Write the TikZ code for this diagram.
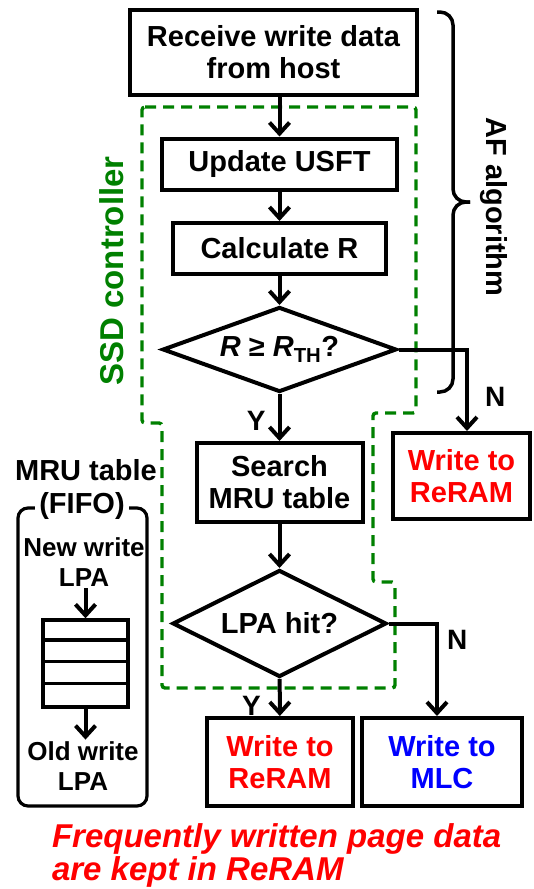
\documentclass[tikz,border=0pt]{standalone}
\usepackage{fontspec}
\setmainfont{Liberation Sans}
\usepackage{xcolor}
\usepackage{tikz}
\usetikzlibrary{positioning, arrows.meta, shapes.geometric}

\definecolor{ctrlgreen}{RGB}{0,128,0}

\begin{document}
\begin{tikzpicture}[
        x=1pt, y=-1pt,
        line width=4pt,
        >={Straight Barb[length=11pt, width=20pt]},
        every node/.style={font=\fontsize{29}{32}\selectfont\bfseries,
          align=center, inner sep=0pt},
        proc/.style={draw, rectangle, line width=4pt},
        decision/.style={draw, diamond, line width=4pt},
        small/.style={font=\fontsize{26}{30}\selectfont\bfseries},
        lbl/.style={font=\fontsize{28}{30}\selectfont\bfseries},
      ]
      \useasboundingbox (0,0) rectangle (533,889);

      % controller region
      \draw[ctrlgreen, line width=3.4pt, dash pattern=on 11pt off 7pt,
        rounded corners=3pt]
      (142,107) -- (416,107) -- (416,413) -- (373,413) -- (373,582)
      -- (395,582) -- (395,688) -- (162,688) -- (162,423) -- (142,423) -- cycle;
      \node[ctrlgreen, rotate=90, font=\fontsize{33}{36}\selectfont\bfseries]
      (ssd) at (112,271) {SSD controller};

      \node[proc, minimum width=287, minimum height=85] (recv) at (273.5,52.5)
      {Receive write data\\from host};
      \node[proc, minimum width=235, minimum height=51] (usft) at (279.5,164)
      {Update USFT};
      \node[proc, minimum width=213, minimum height=51] (calcR) at (279.5,248.5)
      {Calculate R};
      \node[decision, aspect=2.75, minimum width=234, minimum height=85] (cmpR)
      at (279.5,349.5) {\textit{R} ≥ \textit{R}\textsubscript{TH}?};
      \node[proc, minimum width=137, minimum height=86, text=red] (rr1)
      at (461.5,476) {Write to\\ReRAM};
      \node[proc, minimum width=166, minimum height=79] (srch) at (279.5,482.5)
      {Search\\MRU table};
      \node[decision, aspect=2, minimum width=214, minimum height=107] (hit)
      at (279.5,623.5) {LPA hit?};
      \node[proc, minimum width=146, minimum height=88, text=red] (rr2)
      at (280,762) {Write to\\ReRAM};
      \node[proc, minimum width=160, minimum height=88, text=blue] (mlc)
      at (442,762) {Write to\\MLC};

      % AF algorithm
      \draw[line width=3.5pt, rounded corners=13pt]
      (437,12) -| (453,202) -- (470,202);
      \draw[line width=3.5pt, rounded corners=13pt]
      (470,202) -- (453,202) |- (437,392);
      \node[rotate=-90] (af) at (494,207) {AF algorithm};

      \path[->]
      (recv.south -| usft.north) edge (usft.north)
      (usft) edge (calcR)
      (calcR) edge (cmpR)
      (cmpR) edge node[lbl, left, pos=0.58, xshift=-12pt] {Y} (srch)
      (srch) edge (hit)
      (hit) edge node[lbl, left, pos=0.72, xshift=-17pt] {Y} (rr2);

      \draw[->] (cmpR.east) -| node[lbl, right, pos=0.79, xshift=16pt] {N}
      ([xshift=5.5pt]rr1.north);
      \draw[->] (hit.east) -| node[lbl, right, pos=0.59, xshift=8pt] {N}
      ([xshift=-5pt]mlc.north);

      % MRU table
      \node (mru) at (86,470) {MRU table};
      \draw[line width=3.2pt, rounded corners=10pt] (18,508) rectangle (147,806);
      \node[fill=white, inner xsep=4pt] (fifo) at (82,506) {(FIFO)};
      \node[small] (newlpa) at (84,562) {New write\\LPA};
      \node[draw, line width=3.4pt, minimum width=85, minimum height=87]
      (stk) at (85.5,663.5) {};
      \foreach \k in {1,2,3}
      \draw[line width=3.2pt] ([yshift=-\k*21.75pt]stk.north west)
      -- ([yshift=-\k*21.75pt]stk.north east);
      \node[small] (oldlpa) at (83,766) {Old write\\LPA};
      \path[->]
      (newlpa.south -| stk.north) edge (stk.north)
      (stk.south) edge (stk.south |- oldlpa.north);

      \node[anchor=west, align=left, text=red,
        font=\fontsize{33}{33}\selectfont\bfseries\itshape] (note) at (50,855)
      {Frequently written page data\\are kept in ReRAM};

    \end{tikzpicture}
\end{document}
